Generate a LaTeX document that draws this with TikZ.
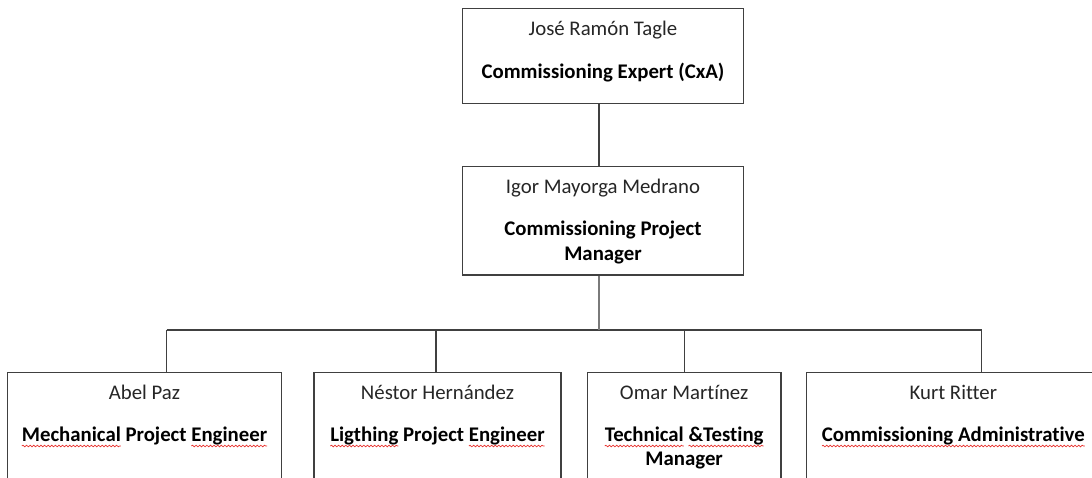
\documentclass[tikz,border=0pt]{standalone}
\usepackage{fontspec}
\setmainfont[Ligatures=NoCommon]{Carlito}
\usetikzlibrary{decorations.pathmorphing}
\definecolor{edge}{HTML}{404040}
\definecolor{linkgray}{HTML}{7A7A7A}
\definecolor{sqred}{HTML}{E8322E}
\definecolor{nametext}{HTML}{262626}
\tikzset{
  box/.style={draw=edge, line width=1.4pt, fill=white, inner sep=0pt, rectangle},
  link/.style={draw=edge, line width=1.4pt},
  mainlink/.style={draw=linkgray, line width=2.4pt},
  person/.style={font=\fontsize{20.8}{25}\selectfont, text=nametext, inner sep=0pt, anchor=base},
  role/.style={font=\fontsize{20.8}{25}\selectfont\bfseries, text=black, inner sep=0pt, anchor=base},
  sqline/.style={draw=sqred, line width=0.7pt, decorate, decoration={snake, amplitude=0.8pt, segment length=3.6pt}},
}
\newsavebox\sqbox
\newlength\sqlen
\newcommand\sqword[1]{\sbox\sqbox{#1}\setlength\sqlen{\wd\sqbox}\rlap{\tikz[overlay,x=1pt,y=1pt,baseline=0pt]\draw[sqline] (0,-4.3) -- (\sqlen,-4.3);}\usebox\sqbox}
\begin{document}
\begin{tikzpicture}[x=1pt,y=-1pt]
\useasboundingbox (0,0) rectangle (1092,477);
\clip (0,0) rectangle (1092,477);
\fill[white] (0,0) rectangle (1092,477);

% boxes
\node[box, minimum width=280.6pt, minimum height=95pt] (cxa) at (603,55.8) {};
\node[box, minimum width=280.6pt, minimum height=108.3pt] (cpm) at (603,220.85) {};
\node[box, minimum width=274.4pt, minimum height=147.3pt] (mpe) at (144.5,446.35) {};
\node[box, minimum width=247pt, minimum height=147.3pt] (lpe) at (437.5,446.35) {};
\node[box, minimum width=193.7pt, minimum height=147.3pt] (ttm) at (684.15,446.35) {};
\node[box, minimum width=293.3pt, minimum height=147.3pt] (cad) at (953.35,446.35) {};

% connectors
\coordinate (j1) at (599,330);
\coordinate (d1) at (166.7,330);
\coordinate (d2) at (436,330);
\coordinate (d3) at (684.3,330);
\coordinate (d4) at (981.7,330);
\draw[link] (cxa.south -| j1) -- (cpm.north -| j1);
\draw[link] (d1) -- (d4);
\draw[link] (d1) -- (mpe.north -| d1);
\draw[link] (d2) -- (lpe.north -| d2);
\draw[link] (d3) -- (ttm.north -| d3);
\draw[link] (d4) -- (cad.north -| d4);
\draw[mainlink] (cpm.south -| j1) -- (j1);

% texts
\node[person] (cxaname) at (603,35) {José Ramón Tagle};
\node[role] (cxarole) at (603,78.3) {Commissioning Expert (CxA)};
\node[person] (cpmname) at (603,193.3) {Igor Mayorga Medrano};
\node[role] (cpmrole1) at (603,235) {Commissioning Project};
\node[role] (cpmrole2) at (603,260) {Manager};

\node[person] (mpename) at (144.5,399) {Abel Paz};
\node[role] (mperole) at (144.5,441.7) {\sqword{Mechanical} Project \sqword{Engineer}};
\node[person] (lpename) at (437.5,399) {Néstor Hernández};
\node[role] (lperole) at (437.5,441.7) {\sqword{Ligthing} Project \sqword{Engineer}};
\node[person] (ttmname) at (684.15,399) {Omar Martínez};
\node[role] (ttmrole1) at (684.15,441.7) {\sqword{Technical} \sqword{\&Testing}};
\node[role] (ttmrole2) at (684.15,465) {Manager};
\node[person] (cadname) at (953.35,399) {Kurt Ritter};
\node[role] (cadrole) at (953.35,441.7) {\sqword{Commissioning Administrative}};
\end{tikzpicture}
\end{document}
